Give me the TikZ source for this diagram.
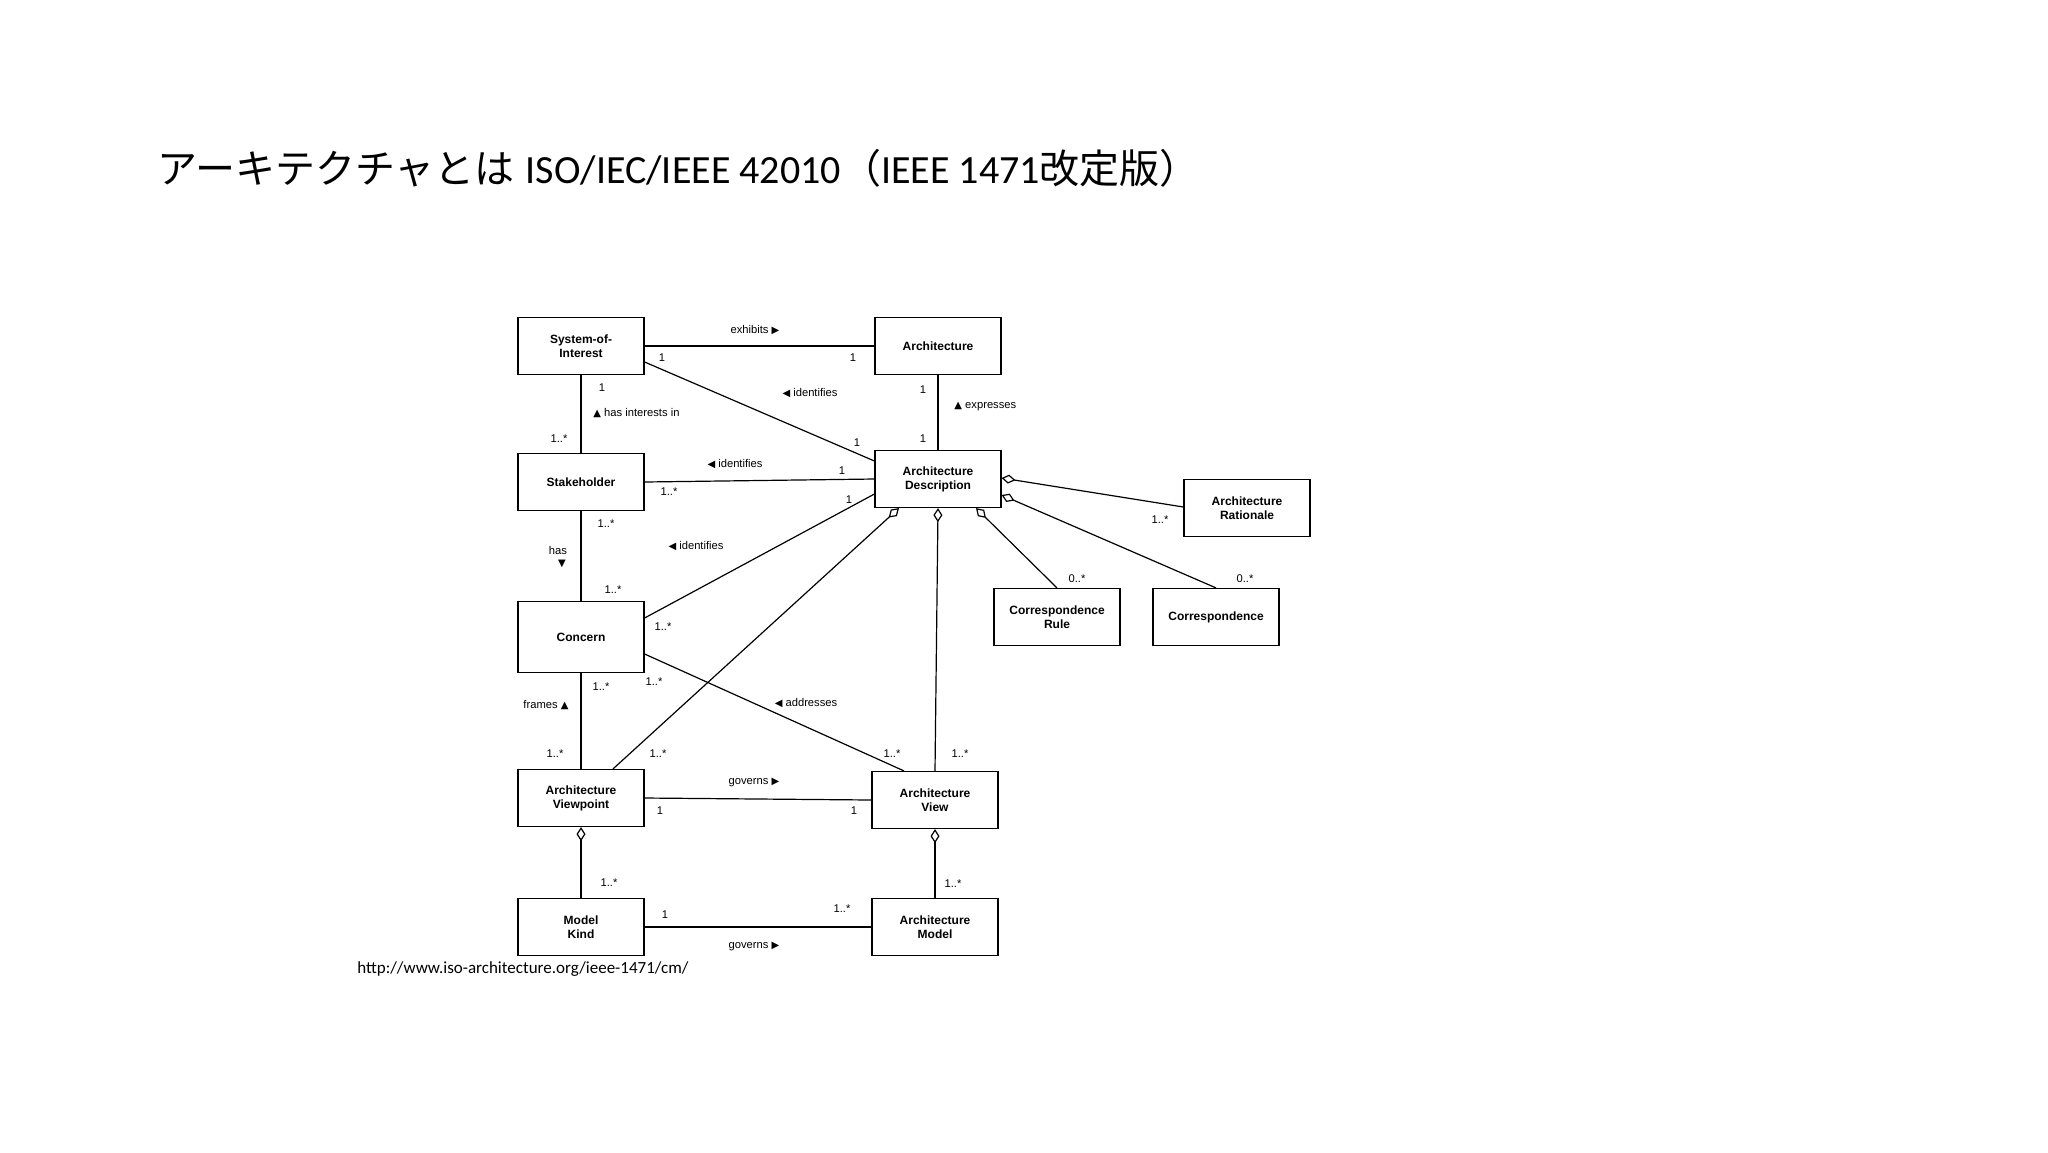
\documentclass[tikz,border=0pt]{standalone}
\usepackage{fontspec}
\setmainfont{Liberation Sans}
\newfontfamily\cjk{Noto Sans CJK JP}
\newfontfamily\lat{Carlito}
\newfontfamily\sym{DejaVu Sans}
\usetikzlibrary{calc,arrows.meta}
\tikzset{
 cls/.style={draw,line width=0.6pt,minimum width=63pt,minimum height=28.5pt,inner sep=0pt,align=center,font=\fontsize{6}{7}\selectfont\bfseries},
 lnk/.style={line width=0.6pt},
 agg/.style={line width=0.6pt,{Diamond[open,length=7pt,width=4.5pt]}-},
 lab/.style={font=\fontsize{5.6}{6.5}\selectfont,inner sep=0pt},
}
\newcommand{\trR}{{\sym\fontsize{5}{6}\selectfont ▶}}
\newcommand{\trL}{{\sym\fontsize{5}{6}\selectfont ◀}}
\newcommand{\trU}{{\sym\fontsize{5}{6}\selectfont ▲}}
\newcommand{\trD}{{\sym\fontsize{5}{6}\selectfont ▼}}
\begin{document}
\begin{tikzpicture}[x=0.5pt,y=-0.5pt]
\useasboundingbox[fill=white] (0,0) rectangle (2048,1152);
\node[anchor=base west,inner sep=0pt,font=\fontsize{20}{24}\selectfont] (title) at (157,183) {{\cjk アーキテクチャとは} {\lat ISO/IEC/IEEE 42010}{\cjk （}{\lat IEEE 1471}{\cjk 改定版）}};
\node[anchor=west,inner sep=0pt,font=\lat\fontsize{8.5}{10}\selectfont] (url) at (357,969) {http://www.iso-architecture.org/ieee-1471/cm/};

\node[cls] (soi) at (581,346) {System-of-\\Interest};
\node[cls] (arch) at (938,346) {Architecture};
\node[cls] (sh) at (581,482) {Stakeholder};
\node[cls] (ad) at (938,479) {Architecture\\Description};
\node[cls] (rat) at (1247,508) {Architecture\\Rationale};
\node[cls] (cr) at (1057,617) {Correspondence\\Rule};
\node[cls] (co) at (1216,617) {Correspondence};
\node[cls,minimum height=35.5pt] (con) at (581,637) {Concern};
\node[cls] (vp) at (581,798) {Architecture\\Viewpoint};
\node[cls] (view) at (935,800) {Architecture\\View};
\node[cls] (mk) at (581,927) {Model\\Kind};
\node[cls] (am) at (935,927) {Architecture\\Model};

\draw[lnk] (soi.east) -- (arch.west);
\draw[lnk] ($(soi.east)+(0,16)$) -- ($(ad.west)+(0,-18)$);
\draw[lnk] (soi.south) -- (sh.north);
\draw[lnk] (arch.south) -- (ad.north);
\draw[lnk] (sh.east) -- (ad.west);
\draw[lnk] (sh.south) -- (con.north);
\draw[lnk] ($(con.east)+(0,-19)$) -- ($(ad.west)+(0,15)$);
\draw[lnk] ($(con.east)+(0,17)$) -- ($(view.north)+(-31,0)$);
\draw[lnk] (con.south) -- (vp.north);
\draw[agg] ($(ad.south)+(-39,0)$) -- ($(vp.north)+(32,0)$);
\draw[agg] (ad.south) -- (view.north);
\draw[agg] ($(ad.south)+(38,0)$) -- (cr.north);
\draw[agg] ($(ad.east)+(0,-1)$) -- ($(rat.west)+(0,-1)$);
\draw[agg] ($(ad.east)+(0,16)$) -- (co.north);
\draw[lnk] (vp.east) -- (view.west);
\draw[agg] (vp.south) -- (mk.north);
\draw[agg] (view.south) -- (am.north);
\draw[lnk] (mk.east) -- (am.west);

\node[lab] (l1) at (755,330) {exhibits \trR};
\node[lab] (m1) at (662,358) {1};
\node[lab] (m2) at (853,358) {1};
\node[lab] (l2) at (810,393) {\trL{} identifies};
\node[lab] (m3) at (857,443) {1};
\node[lab] (m4) at (602,388) {1};
\node[lab,anchor=west] (l3) at (593,413) {\trU{} has interests in};
\node[lab] (m5) at (559,439) {1..*};
\node[lab] (m6) at (923,390) {1};
\node[lab,anchor=west] (l4) at (954,406) {\trU{} expresses};
\node[lab] (m7) at (923,439) {1};
\node[lab] (l5) at (735,464) {\trL{} identifies};
\node[lab] (m8) at (842,471) {1};
\node[lab] (m9) at (669,492) {1..*};
\node[lab] (m10) at (606,524) {1..*};
\node[lab] (l6) at (558,550) {has};
\node[lab] (l6b) at (562,564) {\trD};
\node[lab] (m11) at (613,590) {1..*};
\node[lab] (l7) at (696,546) {\trL{} identifies};
\node[lab] (m12) at (849,500) {1};
\node[lab] (m13) at (663,627) {1..*};
\node[lab] (m14) at (654,682) {1..*};
\node[lab] (l8) at (806,703) {\trL{} addresses};
\node[lab] (m15) at (892,754) {1..*};
\node[lab] (m16) at (601,687) {1..*};
\node[lab] (l9) at (546,705) {frames \trU};
\node[lab] (m17) at (555,754) {1..*};
\node[lab] (m18) at (658,754) {1..*};
\node[lab] (m19) at (960,754) {1..*};
\node[lab] (m20) at (1077,579) {0..*};
\node[lab] (m21) at (1160,520) {1..*};
\node[lab] (m22) at (1245,579) {0..*};
\node[lab] (l10) at (754,782) {governs \trR};
\node[lab] (m23) at (660,811) {1};
\node[lab] (m24) at (854,811) {1};
\node[lab] (m25) at (609,883) {1..*};
\node[lab] (m26) at (953,884) {1..*};
\node[lab] (m27) at (665,915) {1};
\node[lab] (m28) at (842,909) {1..*};
\node[lab] (l11) at (754,946) {governs \trR};
\end{tikzpicture}
\end{document}
